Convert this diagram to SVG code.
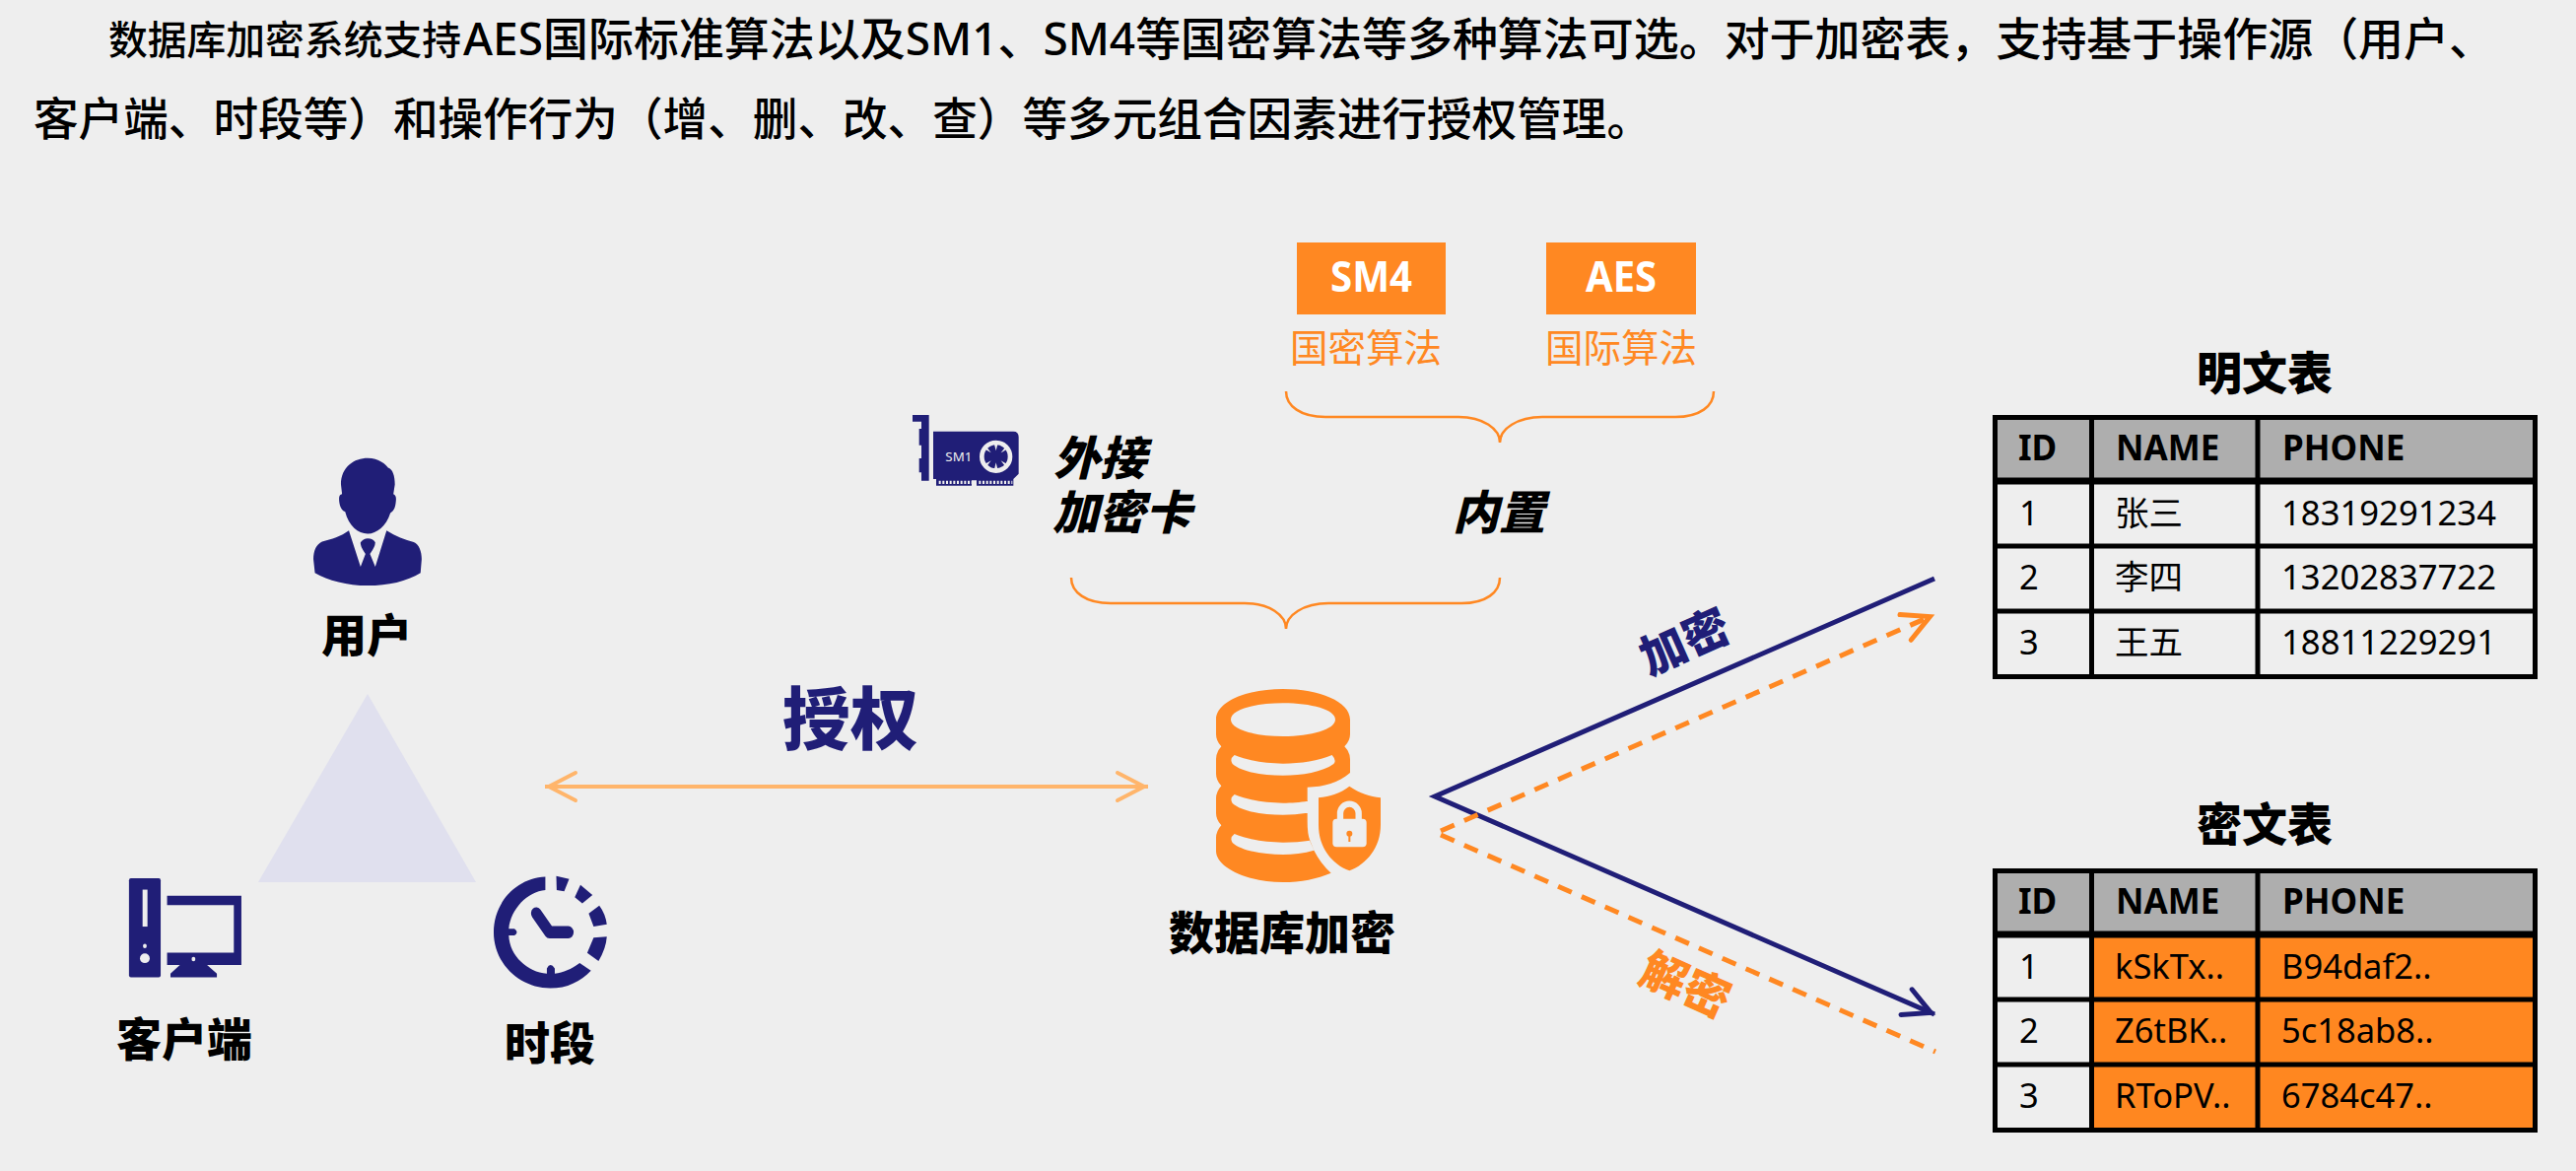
<svg xmlns="http://www.w3.org/2000/svg" width="2614" height="1188" viewBox="0 0 2614 1188">
<style>
text{font-family:"Noto Sans","Noto Sans CJK SC",sans-serif;fill:#000}
.intro{font-size:46px;font-weight:500}
.lab{font-family:"Noto Sans CJK SC",sans-serif;font-weight:900;font-size:46px;text-anchor:middle}
.ital{font-family:"Noto Sans CJK SC",sans-serif;font-weight:900;font-size:47px;font-style:italic}
.navy{fill:#201e77}.org{fill:#ff8822}.bg{fill:#eeeeee}
.tag{font-weight:700;font-size:43px;fill:#fff;text-anchor:middle}
.algo{font-family:"Noto Sans CJK SC",sans-serif;font-size:38.500px;fill:#ff8822;text-anchor:middle}
.brace{fill:none;stroke:#ff8822;stroke-width:2.5}
.th{font-weight:700;font-size:35px}.td{font-size:34.5px}
.grid{fill:none;stroke:#000;stroke-width:5}
.grid .hb{stroke-width:7}
.hdr{fill:#aeaeae}.enc{fill:#ff8720}
.navyline{fill:none;stroke:#201e77;stroke-width:5}
.orgline{fill:none;stroke:#ff8822;stroke-width:5;stroke-dasharray:15 11}
</style>
<defs>
<marker id="headNavy" markerUnits="userSpaceOnUse" markerWidth="60" markerHeight="60" refX="4" overflow="visible" orient="auto"><path d="M-27,-14 L0,0 L-27,14" fill="none" stroke="#201e77" stroke-width="5" stroke-linecap="round"/></marker>
<marker id="headOrg" markerUnits="userSpaceOnUse" markerWidth="60" markerHeight="60" refX="4" overflow="visible" orient="auto"><path d="M-27,-14 L0,0 L-27,14" fill="none" stroke="#ff8822" stroke-width="5" stroke-linecap="round"/></marker>
<marker id="headSoft" markerUnits="userSpaceOnUse" markerWidth="60" markerHeight="60" refX="4" overflow="visible" orient="auto-start-reverse"><path d="M-27,-14 L0,0 L-27,14" fill="none" stroke="#ffb56b" stroke-width="4" stroke-linecap="round"/></marker>
</defs>
<rect width="2614" height="1188" class="bg"/>

<g id="intro">
<text x="110" y="55" style="font-size:40px;font-weight:500" textLength="358" lengthAdjust="spacingAndGlyphs">数据库加密系统支持</text>
<text class="intro" x="470" y="56" textLength="2061" lengthAdjust="spacingAndGlyphs">AES国际标准算法以及SM1、SM4等国密算法等多种算法可选。对于加密表，支持基于操作源（用户、</text>
<text class="intro" x="34" y="137" textLength="1642" lengthAdjust="spacingAndGlyphs">客户端、时段等）和操作行为（增、删、改、查）等多元组合因素进行授权管理。</text>
</g>

<g id="connectors">
<path class="navyline" d="M1963,587 L1456,808 L1963,1029" marker-end="url(#headNavy)"/>
<path class="orgline" d="M1462,843 L1962,624" marker-end="url(#headOrg)"/>
<path class="orgline" d="M1462,847 L1964,1067"/>
<path d="M553,798 H1165" fill="none" stroke="#ffb56b" stroke-width="4" marker-start="url(#headSoft)" marker-end="url(#headSoft)"/>
<path class="brace" d="M1305,397 C1305,412 1320,423 1345,423 H1480 C1505,423 1522,435 1522,449 C1522,435 1540,423 1565,423 H1700 C1725,423 1739,412 1739,397"/>
<path class="brace" d="M1087,586 C1087,601 1102,612 1127,612 H1263 C1288,612 1305,624 1305,638 C1305,624 1323,612 1348,612 H1483 C1508,612 1522,601 1522,586"/>
</g>

<g id="triangle"><polygon points="373,704 483,895 262,895" fill="#e0e0ee"/></g>

<g id="user">
<g transform="translate(80,420) scale(.3827,.4464)" class="navy">
<path d="M695,160 C695,120 730,100 766,100 C795,100 815,115 820,122 C832,125 838,140 838,160 L834,182 Q842,185 841,195 C840,215 833,222 826,225 C815,255 790,272 766,272 C740,272 716,255 706,222 C698,220 690,210 690,192 Q690,183 698,182 Z"/>
<path d="M716,265 L747,347 L760,318 Q745,300 747,292 Q755,283 766,283 Q780,283 786,292 Q786,302 772,318 L786,347 L816,265 C840,278 865,287 888,291 C902,296 909,312 909,330 L906,361 C870,380 820,390 766,390 C712,390 660,378 626,361 L622,330 C622,310 630,296 645,290 C670,285 695,278 716,265 Z"/>
</g>
<text class="lab" x="372" y="661">用户</text>
</g>

<g id="client">
<g transform="translate(80,420) scale(.3827,.4464)">
<rect class="navy" x="133" y="1055" width="84" height="225" rx="5"/>
<rect class="bg" x="169" y="1081" width="13" height="84"/>
<ellipse class="bg" cx="175" cy="1209" rx="5" ry="5"/>
<ellipse class="bg" cx="175" cy="1237" rx="13" ry="11"/>
<path class="navy" d="M234,1095 H431 V1252 H340 L366,1272 V1280 H243 V1272 L268,1252 H234 V1224 H411 V1116 H234 Z"/>
<ellipse class="bg" cx="304" cy="1239" rx="5" ry="5"/>
</g>
<text class="lab" x="187" y="1071">客户端</text>
</g>

<g id="period">
<g transform="translate(80,420) scale(.3827,.4464)" class="navy">
<path d="M1237,1052 C1160,1055 1100,1110 1100,1178 C1100,1250 1170,1305 1250,1305 C1295,1305 1330,1290 1358,1265 L1328,1248 C1305,1262 1285,1270 1262,1272 V1260 Q1250,1245 1241,1260 V1272 C1190,1268 1142,1232 1140,1185 H1155 Q1168,1178 1155,1170 H1140 C1145,1125 1190,1085 1237,1082 Z"/>
<path d="M1266,1050 L1300,1057 L1287,1085 L1267,1082 Z"/>
<path d="M1330,1070 L1362,1093 L1335,1112 L1315,1098 Z"/>
<path d="M1380,1117 Q1396,1135 1400,1160 L1365,1165 L1352,1135 Z"/>
<path d="M1400,1188 Q1398,1215 1378,1243 L1348,1225 L1365,1190 Z"/>
<path d="M1213,1135 L1248,1178 H1298" fill="none" stroke="#201e77" stroke-width="28" stroke-linecap="round" stroke-linejoin="round"/>
</g>
<text class="lab" x="558" y="1075">时段</text>
</g>

<g id="grant"><text class="lab navy" x="863" y="755" style="font-size:69px">授权</text></g>

<g id="dbcrypt">
<g transform="translate(1220,690) scale(.33333)">
<path class="org" fill-rule="evenodd" d="M42,120 C42,65 135,27 246,27 C357,27 450,65 450,120 V165 Q450,185 433,202 Q450,220 450,240 V282 C415,312 370,325 320,326 V430 Q320,470 328,488 L340,518 Q360,558 392,587 C350,605 300,615 246,615 C135,615 42,570 42,520 V480 Q42,460 58,442 Q42,425 42,405 V360 Q42,340 58,322 Q42,305 42,285 V240 Q42,220 58,202 Q42,185 42,165 Z
M87,120 C87,150 160,171 246,171 C332,171 405,150 405,120 C405,90 332,70 246,70 C160,70 87,90 87,120 Z
M98,228 C140,245 190,254 246,254 C300,254 355,245 395,228 Q410,245 400,255 C365,280 305,290 246,290 C185,290 120,280 92,255 Q82,240 98,228 Z
M98,348 C140,365 190,374 246,374 C270,374 300,372 320,368 V404 C295,408 270,410 246,410 C185,410 120,400 92,375 Q82,360 98,348 Z
M98,468 C140,485 190,494 246,494 C275,494 305,491 327,488 L340,518 C310,527 275,531 246,531 C185,531 120,520 92,495 Q82,480 98,468 Z"/>
<path class="org" d="M448,323 C480,345 510,353 543,358 V440 C543,510 500,560 448,580 C395,560 354,510 354,440 V358 C390,353 420,345 448,323 Z"/>
<rect class="bg" x="397" y="422" width="103" height="86" rx="12"/>
<path d="M420,425 V405 a28,28 0 0 1 56,0 V425" fill="none" stroke="#eeeeee" stroke-width="19"/>
<circle class="org" cx="448" cy="467" r="9"/>
<path d="M448,470 V492" stroke="#ff8822" stroke-width="6"/>
</g>
<text class="lab" x="1301" y="963">数据库加密</text>
</g>

<g id="card">
<g transform="translate(920,410) scale(.33333)">
<polygon class="navy" points="18,33 68,33 68,233 45,233 45,208 38,208 38,165 45,165 45,125 38,125 38,75 45,75 45,53 18,53"/>
<path class="navy" d="M81,83 H325 Q341,83 341,100 V212 L325,228 V248 H213 V232 H198 V248 H90 V228 H81 Z"/>
<path d="M98,238 H198 M220,238 H322" stroke="#eeeeee" stroke-width="10" stroke-dasharray="6 5" fill="none"/>
<text x="118" y="174" style="font-size:40px;fill:#eeeeee">SM1</text>
<circle cx="272" cy="160" r="43" fill="#201e77" stroke="#eeeeee" stroke-width="14"/>
<path fill="#eeeeee" d="M267,122 H277 L272,142 Z M267,198 H277 L272,178 Z M236,136 L242,128 L257,148 Z M308,136 L302,128 L287,148 Z M236,184 L242,192 L257,172 Z M308,184 L302,192 L287,172 Z"/>
</g>
<text class="ital" x="1069" y="482">外接</text>
<text class="ital" x="1068" y="537">加密卡</text>
</g>

<g id="builtin"><text class="ital" x="1474" y="537">内置</text></g>

<g id="sm4">
<rect class="org" x="1316" y="246" width="151" height="73"/>
<text class="tag" x="1391.500" y="296" textLength="83" lengthAdjust="spacingAndGlyphs">SM4</text>
<text class="algo" x="1386" y="367">国密算法</text>
</g>
<g id="aes">
<rect class="org" x="1569" y="246" width="152" height="73"/>
<text class="tag" x="1645" y="296" textLength="72" lengthAdjust="spacingAndGlyphs">AES</text>
<text class="algo" x="1645" y="367">国际算法</text>
</g>

<g id="encLabel"><text class="lab navy" transform="translate(1710,652) rotate(-24)" y="16" style="font-size:47px">加密</text></g>
<g id="decLabel"><text class="lab org" transform="translate(1710,1000) rotate(24)" y="16" style="font-size:47px">解密</text></g>

<g id="plainTable">
<text class="lab" x="2298" y="395">明文表</text>
<rect class="hdr" x="2022" y="421" width="553" height="67"/>
<g class="grid"><rect x="2024.500" y="423.500" width="548" height="263"/><path d="M2122.500,423 V687 M2291,423 V687 M2024,554 H2573 M2024,620 H2573"/><path class="hb" d="M2024,488 H2573"/></g>
<text class="th" x="2048" y="467">ID</text><text class="th" x="2147" y="467">NAME</text><text class="th" x="2316" y="467">PHONE</text>
<text class="td" x="2049" y="533">1</text><text class="td" x="2146" y="533">张三</text><text class="td" x="2315" y="533" textLength="218" lengthAdjust="spacingAndGlyphs">18319291234</text>
<text class="td" x="2049" y="598">2</text><text class="td" x="2146" y="598">李四</text><text class="td" x="2315" y="598" textLength="218" lengthAdjust="spacingAndGlyphs">13202837722</text>
<text class="td" x="2049" y="664">3</text><text class="td" x="2146" y="664">王五</text><text class="td" x="2315" y="664" textLength="218" lengthAdjust="spacingAndGlyphs">18811229291</text>
</g>

<g id="cipherTable">
<text class="lab" x="2298" y="853">密文表</text>
<rect class="hdr" x="2022" y="881" width="553" height="67"/>
<rect class="enc" x="2122" y="948" width="453" height="200"/>
<g class="grid"><rect x="2024.500" y="883.500" width="548" height="263"/><path d="M2122.500,883 V1147 M2291,883 V1147 M2024,1014 H2573 M2024,1080 H2573"/><path class="hb" d="M2024,948 H2573"/></g>
<text class="th" x="2048" y="927">ID</text><text class="th" x="2147" y="927">NAME</text><text class="th" x="2316" y="927">PHONE</text>
<text class="td" x="2049" y="993">1</text><text class="td" x="2146" y="993">kSkTx..</text><text class="td" x="2315" y="993">B94daf2..</text>
<text class="td" x="2049" y="1058">2</text><text class="td" x="2146" y="1058">Z6tBK..</text><text class="td" x="2315" y="1058">5c18ab8..</text>
<text class="td" x="2049" y="1124">3</text><text class="td" x="2146" y="1124">RToPV..</text><text class="td" x="2315" y="1124">6784c47..</text>
</g>
</svg>
